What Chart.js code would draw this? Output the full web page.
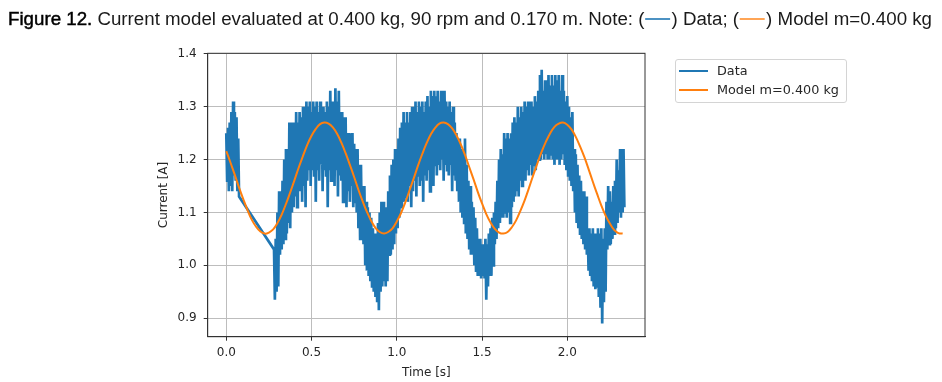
<!DOCTYPE html>
<html><head><meta charset="utf-8">
<script src="https://cdn.jsdelivr.net/npm/chart.js@4.4.1/dist/chart.umd.min.js"></script>
<style>
html,body{margin:0;padding:0;background:#fff;}
#wrap{position:relative;width:942px;height:382px;overflow:hidden;background:#fff;}
#c{position:absolute;left:0;top:0;}
#caption{position:absolute;left:8px;top:10px;white-space:nowrap;font-family:"Liberation Sans Narrow","Liberation Sans",sans-serif;font-size:18px;line-height:18px;color:#1a1a1a;transform-origin:0 0;}
#caption b{font-weight:normal;color:#000;-webkit-text-stroke:0.45px #000;}
.dash{display:inline-block;width:24px;height:2px;vertical-align:5px;margin:0 1px;}
#legend{position:absolute;left:675px;top:59px;width:170px;height:42px;border:1px solid #d4d4d4;border-radius:3px;font-family:"DejaVu Sans",sans-serif;font-size:12.8px;color:#262626;}
.lg-line{position:absolute;left:3px;width:29px;height:2px;}
.lg-text{position:absolute;left:41px;line-height:15px;white-space:nowrap;}
</style></head>
<body>
<div id="wrap">
<canvas id="c" width="942" height="382"></canvas>
<div id="caption"></div>
<div id="legend"></div>
</div>
<script>
// ---- data ----
const seriesNames = ['Data', 'Model m=0.400 kg'];
const seriesColors = ['#1f77b4', '#ff7f0e'];
const xTicks = [0.0, 0.5, 1.0, 1.5, 2.0];
const yTicks = [0.9, 1.0, 1.1, 1.2, 1.3, 1.4];

// first short burst of measured current, sampled every 5 ms from t = 0
const clusterStart = 0.0, clusterStep = 0.005;
const clusterCurrent = [1.25,1.16,1.26,1.14,1.27,1.15,1.29,1.14,1.31,1.17,1.29,1.16,1.28,1.14,1.24,1.13];

// main measured record, sampled every 5 ms from t = 0.28 s
const denseStart = 0.28, denseStep = 0.005;
const denseCurrent = [
1.03,0.935,1.05,0.95,
1.10,0.96,1.14,1.02,1.14,1.03,1.16,1.04,1.20,1.05,1.22,1.06,1.22,1.08,1.27,1.07,1.27,1.10,1.25,1.11,
1.27,1.13,1.29,1.11,1.27,1.15,1.29,1.14,1.28,1.12,1.30,1.15,1.29,1.11,1.31,1.16,1.30,1.18,1.31,1.15,
1.29,1.18,1.31,1.17,1.30,1.12,1.31,1.18,1.29,1.16,1.31,1.19,1.30,1.14,1.30,1.18,1.29,1.17,1.31,1.11,
1.30,1.18,1.33,1.16,1.31,1.19,1.31,1.15,1.335,1.18,1.31,1.13,1.33,1.17,1.29,1.16,1.29,1.12,1.28,1.17,
1.28,1.11,1.25,1.14,1.25,1.12,1.24,1.15,1.25,1.11,1.23,1.12,1.22,1.10,1.22,1.07,1.19,1.05,1.19,1.06,
1.15,1.04,1.15,1.00,1.12,0.99,1.11,0.98,1.10,0.97,1.09,0.96,1.07,0.95,1.06,0.94,1.06,0.93,1.08,0.915,
1.10,0.95,1.12,0.96,1.12,0.97,1.06,0.96,1.11,0.97,1.14,1.02,1.17,1.02,1.19,1.03,1.20,1.04,1.22,1.06,
1.22,1.07,1.24,1.09,1.26,1.11,1.27,1.12,1.29,1.12,1.27,1.13,1.29,1.12,1.27,1.15,1.29,1.11,1.30,1.14,
1.29,1.16,1.31,1.13,1.29,1.17,1.31,1.15,1.30,1.16,1.31,1.12,1.29,1.17,1.31,1.16,1.32,1.18,1.30,1.14,
1.33,1.18,1.32,1.15,1.33,1.19,1.32,1.17,1.33,1.19,1.31,1.18,1.33,1.20,1.32,1.16,1.33,1.19,1.31,1.18,
1.30,1.17,1.31,1.19,1.29,1.14,1.30,1.17,1.27,1.16,1.25,1.14,1.24,1.12,1.24,1.10,1.22,1.09,1.22,1.08,
1.24,1.06,1.19,1.05,1.16,1.03,1.15,1.02,1.12,1.02,1.11,1.00,1.09,0.99,1.07,0.98,1.05,0.98,1.05,0.975,
1.04,0.98,1.03,0.975,1.05,0.935,1.04,0.96,1.06,0.98,1.07,0.98,1.09,1.00,1.10,1.04,1.12,1.05,1.16,1.07,
1.20,1.08,1.22,1.09,1.21,1.09,1.25,1.10,1.24,1.09,1.25,1.10,1.24,1.08,1.25,1.11,1.27,1.12,1.28,1.13,
1.27,1.14,1.30,1.13,1.28,1.16,1.30,1.15,1.29,1.17,1.31,1.16,1.30,1.18,1.31,1.17,1.30,1.19,1.31,1.17,
1.30,1.19,1.32,1.18,1.31,1.20,1.33,1.20,1.36,1.20,1.37,1.21,1.33,1.20,1.35,1.21,1.33,1.20,1.36,1.20,
1.34,1.21,1.36,1.20,1.34,1.19,1.36,1.20,1.35,1.20,1.36,1.19,1.33,1.20,1.36,1.21,1.33,1.19,1.31,1.18,
1.32,1.17,1.30,1.16,1.28,1.15,1.29,1.14,1.22,1.10,1.21,1.08,1.19,1.07,1.17,1.06,1.16,1.05,1.14,1.04,
1.14,1.03,1.13,1.02,1.07,0.99,1.07,0.98,1.06,0.97,1.07,0.96,1.06,0.955,1.06,0.96,1.07,0.94,1.06,0.92,
1.07,0.89,1.05,0.93,1.07,0.95,1.12,1.03,1.15,1.04,1.14,1.04,1.12,1.05,1.15,1.06,1.16,1.07,1.20,1.08,
1.18,1.10,1.22,1.09,1.19,1.10,1.22,1.11
];

// model curve, read every 25 ms from t = 0
const modelStart = 0.0, modelStep = 0.025;
const modelCurrent = [
1.216,1.194,1.171,1.147,1.125,1.104,1.086,1.073,1.064,1.060,
1.062,1.068,1.080,1.096,1.116,1.138,1.161,1.185,1.207,1.228,
1.245,1.258,1.267,1.270,1.268,1.261,1.249,1.232,1.212,1.190,
1.167,1.143,1.121,1.101,1.084,1.071,1.063,1.060,1.063,1.070,
1.083,1.099,1.119,1.142,1.165,1.189,1.211,1.231,1.248,1.260,
1.268,1.270,1.267,1.259,1.246,1.229,1.209,1.186,1.163,1.139,
1.117,1.097,1.081,1.069,1.062,1.060,1.063,1.072,1.085,1.103,
1.123,1.146,1.170,1.193,1.215,1.234,1.250,1.262,1.268,1.270,
1.266,1.257,1.243,1.225,1.205,1.182,1.158,1.135,1.113,1.094,
1.079,1.067,1.061,1.060
];

// ---- caption & legend (real text) ----
const cap = document.getElementById('caption');
cap.innerHTML = '<b>Figure 12.</b> Current model evaluated at 0.400 kg, 90 rpm and 0.170 m. Note: (' +
  '<span class="dash" style="background:' + seriesColors[0] + ';opacity:0.8"></span>) ' + seriesNames[0] + '; (' +
  '<span class="dash" style="background:' + seriesColors[1] + ';opacity:0.7"></span>) Model m=0.400 kg';
const capW = cap.getBoundingClientRect().width;
cap.style.transform = 'scaleX(' + ((932 - 8) / capW) + ')';

const lg = document.getElementById('legend');
seriesNames.forEach((n, i) => {
  const top = [10.7, 30.3][i];
  lg.insertAdjacentHTML('beforeend',
    '<div class="lg-line" style="top:' + (top - 1) + 'px;background:' + seriesColors[i] + '"></div>' +
    '<div class="lg-text" style="top:' + (top - 8) + 'px">' + n + '</div>');
});

// ---- chart ----
const toPts = (start, step, arr) => arr.map((v, i) => ({x: +(start + i * step).toFixed(4), y: v}));
const dataPts = toPts(clusterStart, clusterStep, clusterCurrent).concat(toPts(denseStart, denseStep, denseCurrent));
const modelPts = toPts(modelStart, modelStep, modelCurrent);

const frame = {
  id: 'frame',
  afterDatasetsDraw(chart) {
    const {ctx, chartArea: a} = chart;
    ctx.save();
    ctx.strokeStyle = '#333';
    ctx.lineWidth = 1;
    ctx.strokeRect(a.left, a.top, a.right - a.left, a.bottom - a.top);
    ctx.restore();
  }
};

const tickFont = {family: 'DejaVu Sans', size: 12};
new Chart(document.getElementById('c'), {
  type: 'line',
  data: {
    datasets: [
      {label: seriesNames[0], data: dataPts, borderColor: seriesColors[0], borderWidth: 2.7, pointRadius: 0, tension: 0, order: 1, borderJoinStyle: 'miter'},
      {label: seriesNames[1], data: modelPts, borderColor: seriesColors[1], borderWidth: 2, pointRadius: 0, tension: 0.4, order: 0}
    ]
  },
  options: {
    responsive: false, animation: false, devicePixelRatio: 1,
    layout: {padding: {left: 150, top: 53.3, right: 297, bottom: 0}},
    plugins: {legend: {display: false}, tooltip: {enabled: false}},
    scales: {
      x: {
        type: 'linear', min: -0.109, max: 2.456,
        afterBuildTicks: s => { s.ticks = xTicks.map(v => ({value: v})); },
        afterFit: s => { s.height = 45.3; },
        ticks: {callback: v => Number(v).toFixed(1), color: '#262626', font: tickFont, padding: 5, maxRotation: 0, autoSkip: false, includeBounds: false},
        grid: {color: '#bdbdbd', lineWidth: 1, tickColor: '#333', tickLength: 4, tickWidth: 1},
        border: {color: '#333', width: 1},
        title: {display: true, text: 'Time [s]', color: '#262626', font: tickFont, padding: {top: 0, bottom: 2}}
      },
      y: {
        type: 'linear', min: 0.865, max: 1.401,
        afterBuildTicks: s => { s.ticks = yTicks.map(v => ({value: v})); },
        afterFit: s => { s.width = 57.7; },
        ticks: {callback: v => Number(v).toFixed(1), color: '#262626', font: tickFont, padding: 7, autoSkip: false, includeBounds: false},
        grid: {color: '#bdbdbd', lineWidth: 1, tickColor: '#333', tickLength: 4, tickWidth: 1},
        border: {color: '#333', width: 1},
        title: {display: true, text: 'Current [A]', color: '#262626', font: tickFont, padding: {top: 6.3, bottom: 0}}
      }
    }
  },
  plugins: [frame]
});
</script>
</body></html>
